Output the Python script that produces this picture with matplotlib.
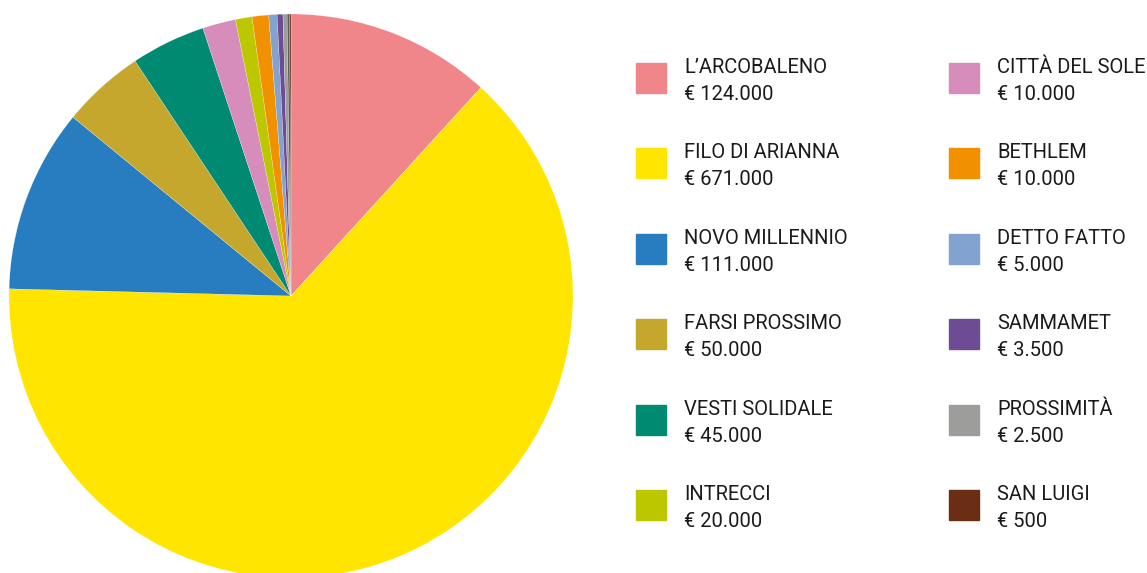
import numpy as np
import matplotlib.pyplot as plt

# legend entries (name, amount, colour)
nomi = ["L\u2019ARCOBALENO", "FILO DI ARIANNA", "NOVO MILLENNIO", "FARSI PROSSIMO",
        "VESTI SOLIDALE", "INTRECCI", "CITTÀ DEL SOLE", "BETHLEM",
        "DETTO FATTO", "SAMMAMET", "PROSSIMITÀ", "SAN LUIGI"]
importi = ["€ 124.000", "€ 671.000", "€ 111.000", "€ 50.000", "€ 45.000", "€ 20.000",
           "€ 10.000", "€ 10.000", "€ 5.000", "€ 3.500", "€ 2.500", "€ 500"]
colori = ["#F0868A", "#FFE500", "#287DC0", "#C4A72C", "#008A72", "#BDC700",
          "#D78DBB", "#F29100", "#82A3CF", "#6E4C93", "#9D9D9C", "#6B2E15"]

# slices as drawn in the pie, clockwise from the top
fette = [124000, 671000, 111000, 50000, 45000, 20000, 10000, 10000, 5000, 3500, 2500, 1500, 800]
colori_fette = ["#F0868A", "#FFE500", "#287DC0", "#C4A72C", "#008A72", "#D78DBB",
                "#BDC700", "#F29100", "#82A3CF", "#6E4C93", "#9D9D9C", "#5A5A5A", "#6B2E15"]

W, H = 1147, 573
fig = plt.figure(figsize=(W / 100, H / 100), dpi=100)

# pie axes: centre (291, 296) px, radius 282 px
cx, cy, r = 291, 296, 282
ax = fig.add_axes([(cx - r) / W, (H - cy - r) / H, 2 * r / W, 2 * r / H])
ax.pie(fette, colors=colori_fette, startangle=90, counterclock=False, radius=1,
       wedgeprops=dict(linewidth=0.15, edgecolor="white"))
ax.set_xlim(-1, 1)
ax.set_ylim(-1, 1)
ax.set_aspect("auto")
ax.axis("off")

# legend, two columns of six
plt.rcParams['font.family'] = ['Roboto', 'DejaVu Sans']
col_quad = [636, 949]
col_testo = [684, 997]
for i, (n, v, c) in enumerate(zip(nomi, importi, colori)):
    col = i // 6
    riga = i % 6
    yc = 78 + riga * 85.4
    fig.patches.append(plt.Rectangle((col_quad[col] / W, 1 - (yc + 15) / H), 30 / W, 30 / H,
                                     transform=fig.transFigure, color=c))
    fig.text(col_testo[col] / W, 1 - (yc - 5) / H, n, fontsize=14.5, color="#1a1a1a", va="baseline")
    fig.text(col_testo[col] / W, 1 - (yc + 22) / H, v, fontsize=14.5, color="#1a1a1a", va="baseline")

fig.savefig("out.png", dpi=100)
